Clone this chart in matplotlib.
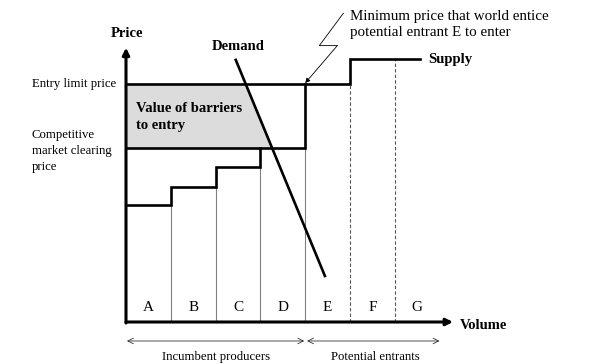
import numpy as np
import matplotlib.pyplot as plt

plt.rcParams['font.family'] = ['Liberation Serif', 'DejaVu Serif']

# volume columns (one unit of capacity each) and their supply price
producers = ["A", "B", "C", "D", "E", "F", "G"]
supply_price = [4.5, 5.2, 5.97, 6.68, 9.14, 10.1]   # A..F, G has no price shown
supply_end = 6.56                                   # supply line stops here
incumbents = 4                                      # A-D are incumbents
# demand line end points (volume, price)
demand_vol = [2.45, 4.44]
demand_price = [10.08, 1.77]

entry_price = supply_price[incumbents]
clearing_price = supply_price[incumbents - 1]

fig = plt.figure(figsize=(6.0, 3.64), dpi=100)
ax = fig.add_axes([0, 0, 1, 1])
ax.set_xlim(-126 / 44.8, 474 / 44.8)
ax.set_ylim(-42 / 26, 322 / 26)
ax.axis("off")

thick = 1.9
# shaded area = value of barriers to entry, left of the demand curve
ys = np.array([clearing_price, entry_price])
xd = np.interp(ys, demand_price[::-1], demand_vol[::-1])
ax.fill([0, xd[0], xd[1], 0], [ys[0], ys[0], ys[1], ys[1]],
        color="#dcdcdc", lw=0, zorder=1)

# column boundaries
for i in range(1, len(producers)):
    if i < len(supply_price):
        top = min(supply_price[i - 1], supply_price[i])
    else:
        top = supply_price[-1]
    style = "-" if i <= incumbents else (0, (3, 2))
    col = "#808080" if i <= incumbents else "#555555"
    ax.plot([i, i], [0, top], color=col, lw=0.8, ls=style, zorder=2)

# supply step curve
edges = np.append(np.arange(len(supply_price)), supply_end)
sx = np.repeat(edges, 2)[1:-1]
sy = np.repeat(supply_price, 2)
ax.plot(sx, sy, color="black", lw=thick, zorder=3, solid_joinstyle="miter")
# box edges for entry limit price and clearing price
ax.plot([0, incumbents], [entry_price, entry_price], color="black", lw=thick, zorder=3)
ax.plot([0, incumbents - 1], [clearing_price, clearing_price], color="black", lw=thick, zorder=3)

# demand
ax.plot(demand_vol, demand_price, color="black", lw=thick, zorder=4)

# axes arrows
ax.annotate("", xy=(7.3, 0), xytext=(0, 0),
            arrowprops=dict(arrowstyle="-|>", lw=2.2, color="black",
                            mutation_scale=10, shrinkA=0, shrinkB=0), zorder=5)
ax.annotate("", xy=(0, 10.55), xytext=(0, -0.04),
            arrowprops=dict(arrowstyle="-|>", lw=2.2, color="black",
                            mutation_scale=10, shrinkA=0, shrinkB=0), zorder=5)

fs = 9.2
bfs = 10.5
for i, p in enumerate(producers):
    ax.text(i + 0.5, 0.55, p, ha="center", va="center", fontsize=11)

ax.text(0.02, 11.08, "Price", ha="center", va="center", fontsize=bfs, fontweight="bold")
ax.text(7.46, -0.12, "Volume", ha="left", va="center", fontsize=bfs, fontweight="bold")
ax.text(2.5, 10.58, "Demand", ha="center", va="center", fontsize=bfs, fontweight="bold")
ax.text(6.74, supply_price[-1], "Supply", ha="left", va="center", fontsize=bfs, fontweight="bold")
ax.text(0.22, 7.88, "Value of barriers\nto entry", ha="left", va="center",
        fontsize=bfs, fontweight="bold", linespacing=1.45)

ax.text(-2.1, entry_price, "Entry limit price", ha="left", va="center", fontsize=fs)
ax.text(-2.1, 6.58, "Competitive\nmarket clearing\nprice", ha="left", va="center",
        fontsize=fs, linespacing=1.4)

# annotation with zigzag pointer
ax.text(5.0, 11.46, "Minimum price that world entice\npotential entrant E to enter",
        ha="left", va="center", fontsize=10.8, linespacing=1.3)
ax.plot([4.85, 4.315, 4.717], [11.87, 10.63, 10.63], color="black", lw=0.6)
ax.annotate("", xy=(4.0, entry_price + 0.05), xytext=(4.717, 10.63),
            arrowprops=dict(arrowstyle="-|>", lw=0.6, color="black",
                            mutation_scale=7, shrinkA=0, shrinkB=0))

# group arrows
ax.annotate("", xy=(0.02, -0.73), xytext=(3.98, -0.73),
            arrowprops=dict(arrowstyle="<->", lw=0.6, color="#333333",
                            mutation_scale=10, shrinkA=0, shrinkB=0))
ax.annotate("", xy=(4.04, -0.73), xytext=(7.0, -0.73),
            arrowprops=dict(arrowstyle="<->", lw=0.6, color="#333333",
                            mutation_scale=10, shrinkA=0, shrinkB=0))
ax.text(2.0, -1.35, "Incumbent producers", ha="center", va="center", fontsize=fs)
ax.text(5.56, -1.35, "Potential entrants", ha="center", va="center", fontsize=fs)

fig.savefig("out.png", dpi=100)
